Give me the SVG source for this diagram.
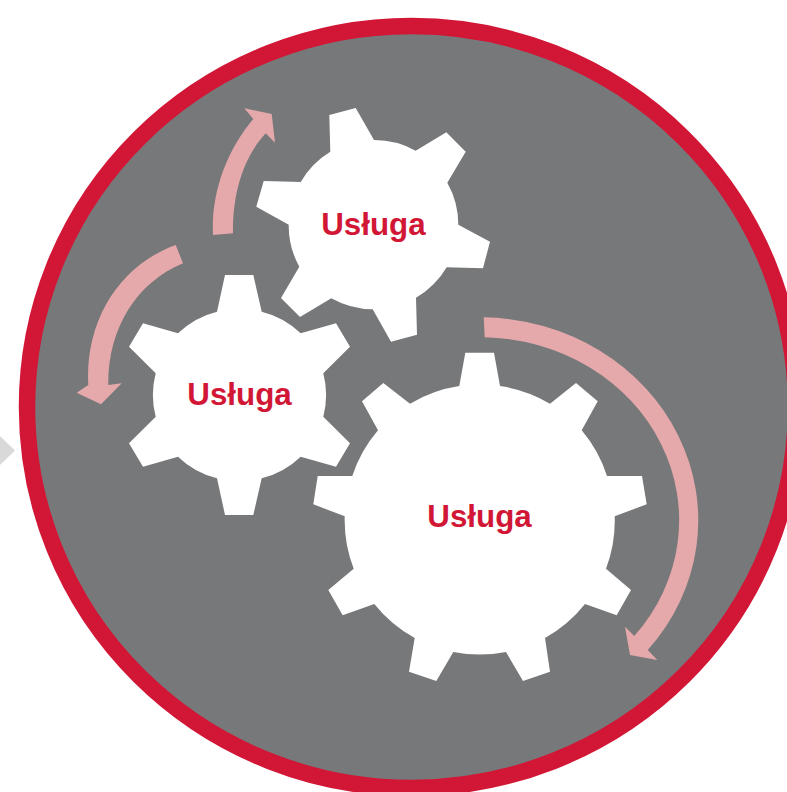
<svg xmlns="http://www.w3.org/2000/svg" width="787" height="792" viewBox="0 0 787 792">
<style>
.gear{fill:#fff}
.lbl{font-family:"Liberation Sans",Arial,sans-serif;font-weight:700;font-size:32px;fill:#d21736;text-anchor:middle}
.arrow{fill:#e6a9ab}
</style>
<rect width="787" height="792" fill="#fff"/>
<polygon id="chevron" points="0,436 15,450.5 0,465" fill="#d9d9d9"/>
<ellipse id="ring" cx="411.5" cy="407" rx="384.5" ry="381" fill="#77787a" stroke="#d21736" stroke-width="16.5"/>
<g id="connectors">
<path class="arrow" d="M213,235 C211,194 226,151 253.3,119 L244.3,108.3 L271.7,114 L275,142.7 L265.7,133.3 C241,160 232.5,198 233,233.3 Z"/>
<path class="arrow" d="M175.7,245 L183,263.3 C135,283 107.5,331 108.3,385 L121.7,383.3 L101,404.3 L76.7,392.7 L88.3,385 C85,322 118,266 175.7,245 Z"/>
<path class="arrow" d="M483.7,317.3 L484.7,337.3 A199,183 0 0 1 634.3,636 L625,626.7 L630,655 L657.3,660 L647.7,650 A219,203 0 0 0 483.7,317.3 Z"/>
</g>
<g id="gear-top">
<path class="gear" d="M330.3,151.7 L329.3,115 L355.7,108 L374,140 A85,85 0 0 1 415.7,150.7 L446.3,132.3 L465.7,151.7 L447.3,182.7 A85,85 0 0 1 458.3,224.7 L490,241.7 L483,268.3 L446.7,267.3 A85,85 0 0 1 416,297.7 L417,334.7 L391,341.7 L372.7,309.3 A85,85 0 0 1 331.3,298.3 L300,317 L281,298 L299.3,266.7 A85,85 0 0 1 288.7,224.7 L256.3,206.7 L263.7,181 L300.7,182 A85,85 0 0 1 330.3,151.7 Z"/>
<text class="lbl" x="373.4" y="234.7" textLength="104.4" lengthAdjust="spacingAndGlyphs">Usługa</text>
</g>
<g id="gear-left">
<path class="gear" d="M217,311.7 L225,275 L253.3,275 L261.7,311.7 A86,86 0 0 1 300.7,333.3 L336,323.3 L350,346.7 L323.3,373.3 A86,86 0 0 1 323.3,416.7 L350,443.3 L336,466.7 L300.7,456.7 A86,86 0 0 1 261.7,478.3 L253.3,515 L225,515 L217,478.3 A86,86 0 0 1 178,456.7 L143,466.7 L129,443.3 L155.7,416.7 A86,86 0 0 1 155.7,373.3 L129,346.7 L143,323.3 L178,333.3 A86,86 0 0 1 217,311.7 Z"/>
<text class="lbl" x="239.5" y="404.7" textLength="104.4" lengthAdjust="spacingAndGlyphs">Usługa</text>
</g>
<g id="gear-big">
<path class="gear" d="M459.3,386 L465.3,352.7 L494,352.7 L500,386 A135,135 0 0 1 550,403.7 L576,383 L597.7,401.3 L581.7,430.3 A135,135 0 0 1 607,476 L642,476 L646.7,504.3 L614.7,516.3 A135,135 0 0 1 606,568.7 L631,590 L616.7,615.3 L585,604 A135,135 0 0 1 545,638 L550,671.7 L523,681 L506,652 A135,135 0 0 1 453.3,652 L436.3,681 L409,671.7 L414.7,638 A135,135 0 0 1 374.3,604 L342.7,615.3 L328.3,590 L353.7,568.7 A135,135 0 0 1 344.7,516.3 L313.3,504.3 L317.7,476 L352.3,476 A135,135 0 0 1 378,430.3 L362,401.3 L383.3,383 L410,403.7 A135,135 0 0 1 459.3,386 Z"/>
<text class="lbl" x="479.5" y="527.4" textLength="104.4" lengthAdjust="spacingAndGlyphs">Usługa</text>
</g>
</svg>
